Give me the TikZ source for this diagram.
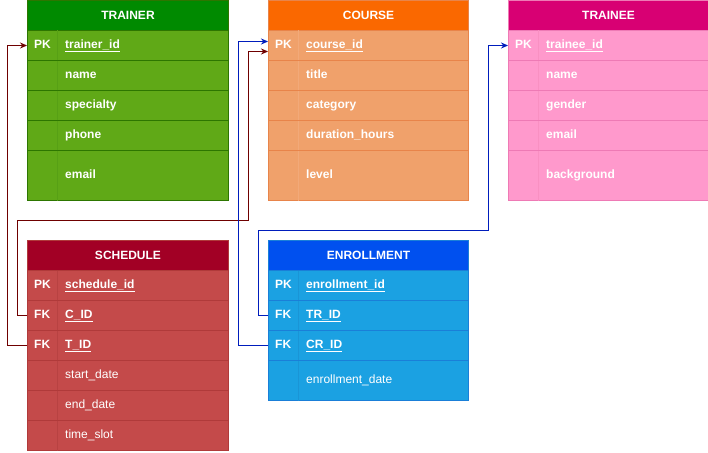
\documentclass[tikz,border=0pt]{standalone}
\usepackage{fontspec}
\setmainfont{Liberation Sans}
\usetikzlibrary{calc,arrows.meta}
\definecolor{trH}{HTML}{008A00}\definecolor{trB}{HTML}{60A917}\definecolor{trS}{HTML}{2D7600}\definecolor{trD}{HTML}{57A015}
\definecolor{coH}{HTML}{FA6800}\definecolor{coB}{HTML}{F0A16B}\definecolor{coS}{HTML}{E8844A}\definecolor{coD}{HTML}{F2A979}
\definecolor{teH}{HTML}{D80073}\definecolor{teB}{HTML}{FF99CC}\definecolor{teS}{HTML}{EE7AB5}\definecolor{teD}{HTML}{F990C2}
\definecolor{scH}{HTML}{A20025}\definecolor{scB}{HTML}{C44A4A}\definecolor{scS}{HTML}{B03A3A}\definecolor{scD}{HTML}{B84242}
\definecolor{enH}{HTML}{0050EF}\definecolor{enB}{HTML}{1BA1E2}\definecolor{enS}{HTML}{1A7FD8}\definecolor{enD}{HTML}{1A95D6}
\definecolor{lnR}{HTML}{6F0000}\definecolor{lnB}{HTML}{001DBC}
\newcommand\ErRow[8]{%
  \node[rowbox, fill=#2B, draw=#2S, minimum width=#8pt, minimum height=#5pt] (#1) at (#3,#4) {};
  \draw[draw=#2D, line width=0.8pt] ($(#1.north west)+(30,0.5)$) -- ($(#1.south west)+(30,-0.5)$);
  \node[keytxt] at ($(#1.west)+(7,0)$) {#6};
  \node[fldtxt] at ($(#1.west)+(38,0)$) {#7};
}
\begin{document}
\begin{tikzpicture}[x=1pt,y=-1pt,
  hdr/.style={anchor=north west, minimum height=30pt, inner sep=0pt, line width=1pt, text=white, font=\bfseries\fontsize{12}{14}\selectfont},
  rowbox/.style={anchor=north west, inner sep=0pt, line width=1pt},
  keytxt/.style={anchor=west, inner sep=0pt, text height=9pt, text depth=3pt, text=white, font=\bfseries\fontsize{12}{14}\selectfont},
  fldtxt/.style={anchor=west, inner sep=0pt, text height=9pt, text depth=3pt, text=white, font=\fontsize{12}{14}\selectfont},
  redln/.style={draw=lnR, line width=1pt, -{Stealth[length=7pt,width=6pt]}},
  bluln/.style={draw=lnB, line width=1pt, -{Stealth[length=7pt,width=6pt]}}]
\useasboundingbox (0,0) rectangle (708,452);
% TRAINER
\node[hdr, fill=trH, draw=trS, minimum width=201pt] (trH) at (27,0) {TRAINER};
\ErRow{tr1}{tr}{27}{30}{30}{PK}{\bfseries\underline{trainer\_id}}{201}
\ErRow{tr2}{tr}{27}{60}{30}{}{\bfseries name}{201}
\ErRow{tr3}{tr}{27}{90}{30}{}{\bfseries specialty}{201}
\ErRow{tr4}{tr}{27}{120}{30}{}{\bfseries phone}{201}
\ErRow{tr5}{tr}{27}{150}{50}{}{\bfseries email}{201}
% COURSE
\node[hdr, fill=coH, draw=coS, minimum width=200pt] (coH) at (268,0) {COURSE};
\ErRow{co1}{co}{268}{30}{30}{PK}{\bfseries\underline{course\_id}}{200}
\ErRow{co2}{co}{268}{60}{30}{}{\bfseries title}{200}
\ErRow{co3}{co}{268}{90}{30}{}{\bfseries category}{200}
\ErRow{co4}{co}{268}{120}{30}{}{\bfseries duration\_hours}{200}
\ErRow{co5}{co}{268}{150}{50}{}{\bfseries level}{200}
% TRAINEE
\node[hdr, fill=teH, draw=teS, minimum width=200pt] (teH) at (508,0) {TRAINEE};
\ErRow{te1}{te}{508}{30}{30}{PK}{\bfseries\underline{trainee\_id}}{200}
\ErRow{te2}{te}{508}{60}{30}{}{\bfseries name}{200}
\ErRow{te3}{te}{508}{90}{30}{}{\bfseries gender}{200}
\ErRow{te4}{te}{508}{120}{30}{}{\bfseries email}{200}
\ErRow{te5}{te}{508}{150}{50}{}{\bfseries background}{200}
% SCHEDULE
\node[hdr, fill=scH, draw=scS, minimum width=201pt] (scH) at (27,240) {SCHEDULE};
\ErRow{sc1}{sc}{27}{270}{30}{PK}{\bfseries\underline{schedule\_id}}{201}
\ErRow{sc2}{sc}{27}{300}{30}{FK}{\bfseries\underline{C\_ID}}{201}
\ErRow{sc3}{sc}{27}{330}{30}{FK}{\bfseries\underline{T\_ID}}{201}
\ErRow{sc4}{sc}{27}{360}{30}{}{start\_date}{201}
\ErRow{sc5}{sc}{27}{390}{30}{}{end\_date}{201}
\ErRow{sc6}{sc}{27}{420}{30}{}{time\_slot}{201}
% ENROLLMENT
\node[hdr, fill=enH, draw=enS, minimum width=200pt] (enH) at (268,240) {ENROLLMENT};
\ErRow{en1}{en}{268}{270}{30}{PK}{\bfseries\underline{enrollment\_id}}{200}
\ErRow{en2}{en}{268}{300}{30}{FK}{\bfseries\underline{TR\_ID}}{200}
\ErRow{en3}{en}{268}{330}{30}{FK}{\bfseries\underline{CR\_ID}}{200}
\ErRow{en4}{en}{268}{360}{40}{}{enrollment\_date}{200}
% connectors
\coordinate (cInR) at ($(co1.west)+(0,6)$);
\coordinate (cInB) at ($(co1.west)+(0,-4)$);
\coordinate (bendR) at (248,220);
\coordinate (bendB) at (488,230);
\draw[redln] (sc3.west) -- ++(-20,0) |- (tr1.west);
\draw[redln] (sc2.west) -- ++(-10,0) |- (bendR) |- (cInR);
\draw[bluln] (en3.west) -- ++(-30,0) |- (cInB);
\draw[bluln] (en2.west) -- ++(-10,0) |- (bendB) |- (te1.west);
\end{tikzpicture}
\end{document}
